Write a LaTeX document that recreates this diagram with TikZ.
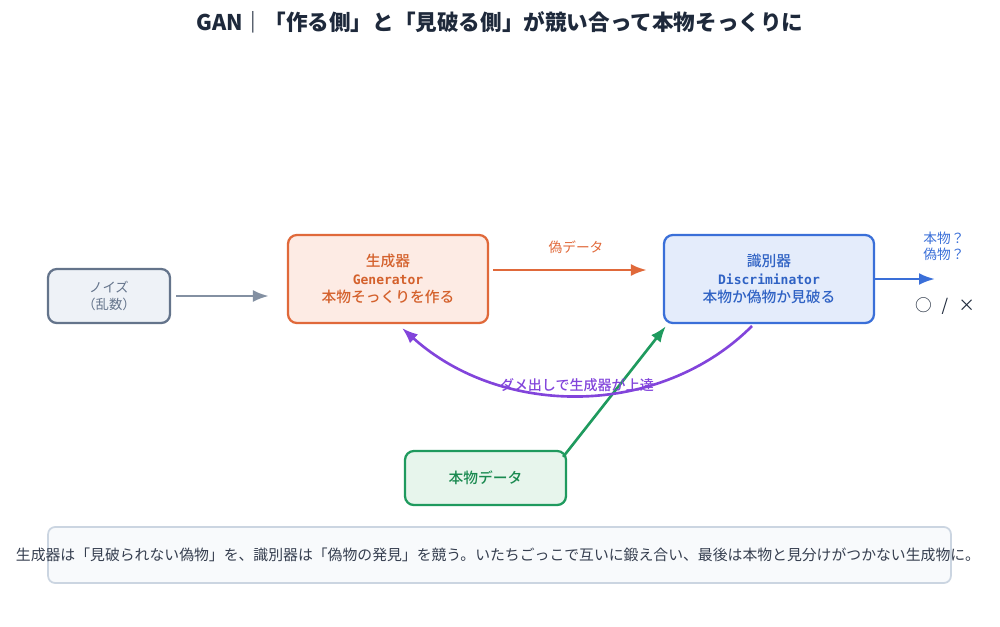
\documentclass[tikz,border=0pt]{standalone}
\usepackage{fontspec}
\setmainfont{Noto Sans CJK JP}
\newfontfamily\medfont{Noto Sans CJK JP Medium}
\newfontfamily\monofont{DejaVu Sans Mono}
\usetikzlibrary{arrows.meta, positioning, calc}
\definecolor{inkDark}{HTML}{1E293B}
\definecolor{noiseLine}{HTML}{64748B}
\definecolor{noiseFill}{HTML}{EEF2F7}
\definecolor{genLine}{HTML}{E0693A}
\definecolor{genFill}{HTML}{FDEBE4}
\definecolor{genText}{HTML}{D4612C}
\definecolor{discLine}{HTML}{3A6FD8}
\definecolor{discFill}{HTML}{E4ECFB}
\definecolor{discText}{HTML}{2F62C4}
\definecolor{realLine}{HTML}{1F9A5E}
\definecolor{realFill}{HTML}{E7F5EC}
\definecolor{realText}{HTML}{1A8A50}
\definecolor{loopLine}{HTML}{8244DB}
\definecolor{capLine}{HTML}{CBD5E1}
\definecolor{capFill}{HTML}{F8FAFC}
\tikzset{
    blockBox/.style={rectangle, rounded corners=5pt, line width=1.3pt, align=center, inner sep=2pt},
    flowArrow/.style={-{Latex[length=3.2mm, width=2.4mm]}, line width=1.5pt},
    edgeLabel/.style={font=\fontsize{7.8}{9}\selectfont}
}

\begin{document}
\begin{tikzpicture}[x=0.02cm, y=-0.02cm]

        % --- Canvas ---
        \useasboundingbox (0,0) rectangle (1000,626);

        % --- Title ---
        \node[font=\fontsize{12.3}{14}\selectfont\bfseries, text=inkDark] (title) at (500,22)
            {GAN｜「作る側」と「見破る側」が競い合って本物そっくりに};

        % --- Blocks ---
        \node[blockBox, draw=noiseLine, fill=noiseFill, text=noiseLine,
              minimum width=2.44cm, minimum height=1.08cm,
              font=\fontsize{7.6}{9.4}\selectfont] (noise) at (109,296) {ノイズ\\（乱数）};
        \node[blockBox, draw=genLine, fill=genFill, text=genText,
              minimum width=4cm, minimum height=1.76cm,
              font=\medfont\fontsize{8.4}{10.2}\selectfont] (gen) at (388,279)
              {生成器\\{\monofont\bfseries\fontsize{7.4}{10.2}\selectfont Generator}\\本物そっくりを作る};
        \node[blockBox, draw=discLine, fill=discFill, text=discText,
              minimum width=4.2cm, minimum height=1.76cm,
              font=\medfont\fontsize{8.4}{10.2}\selectfont] (disc) at (769,279)
              {識別器\\{\monofont\bfseries\fontsize{7.4}{10.2}\selectfont Discriminator}\\本物か偽物か見破る};
        \node[blockBox, draw=realLine, fill=realFill, text=realText,
              minimum width=3.22cm, minimum height=1.08cm,
              font=\medfont\fontsize{8.4}{10}\selectfont] (real) at (485.5,478) {本物データ};

        % --- Output end ---
        \coordinate (verdict) at (935,279);
        \node[edgeLabel, text=discLine, align=center] (askLabel) at (944,246) {本物？\\偽物？};
        \node[text=inkDark, font=\fontsize{9.5}{11}\selectfont] (markLabel) at (945,306) {○\hspace{0.6em}/\hspace{0.6em}×};

        % --- Connectors ---
        \draw[flowArrow, draw=noiseLine!80, shorten <=0.1cm, shorten >=0.36cm] (noise.east) -- (gen.west |- noise.east);
        \draw[flowArrow, draw=genLine, shorten <=0.08cm, shorten >=0.32cm]
            ([yshift=0.18cm]gen.east) -- ([yshift=0.18cm]disc.west)
            node[midway, above=5pt, edgeLabel, text=genLine] (fakeLabel) {偽データ};
        \draw[flowArrow, draw=discLine] (disc.east) -- (verdict);
        \draw[flowArrow, draw=realLine] ([xshift=-0.08cm, yshift=-0.14cm]real.north east) -- ([xshift=0.06cm, yshift=-0.04cm]disc.south west);
        \draw[flowArrow, draw=loopLine] (752,326) .. controls (660,418) and (502,418) .. (402,328);
        \node[edgeLabel, text=loopLine, font=\medfont\fontsize{8}{9}\selectfont] (loopLabel) at (577,385) {ダメ出しで生成器が上達};

        % --- Caption ---
        \node[rectangle, rounded corners=4pt, draw=capLine, fill=capFill, line width=1pt,
              minimum width=18.06cm, minimum height=1.12cm] (capBox) at (499.5,555) {};
        \node[text=inkDark!90, font=\fontsize{8.45}{10}\selectfont] (caption) at (498,555)
            {生成器は「見破られない偽物」を、識別器は「偽物の発見」を競う。いたちごっこで互いに鍛え合い、最後は本物と見分けがつかない生成物に。};

\end{tikzpicture}
\end{document}
